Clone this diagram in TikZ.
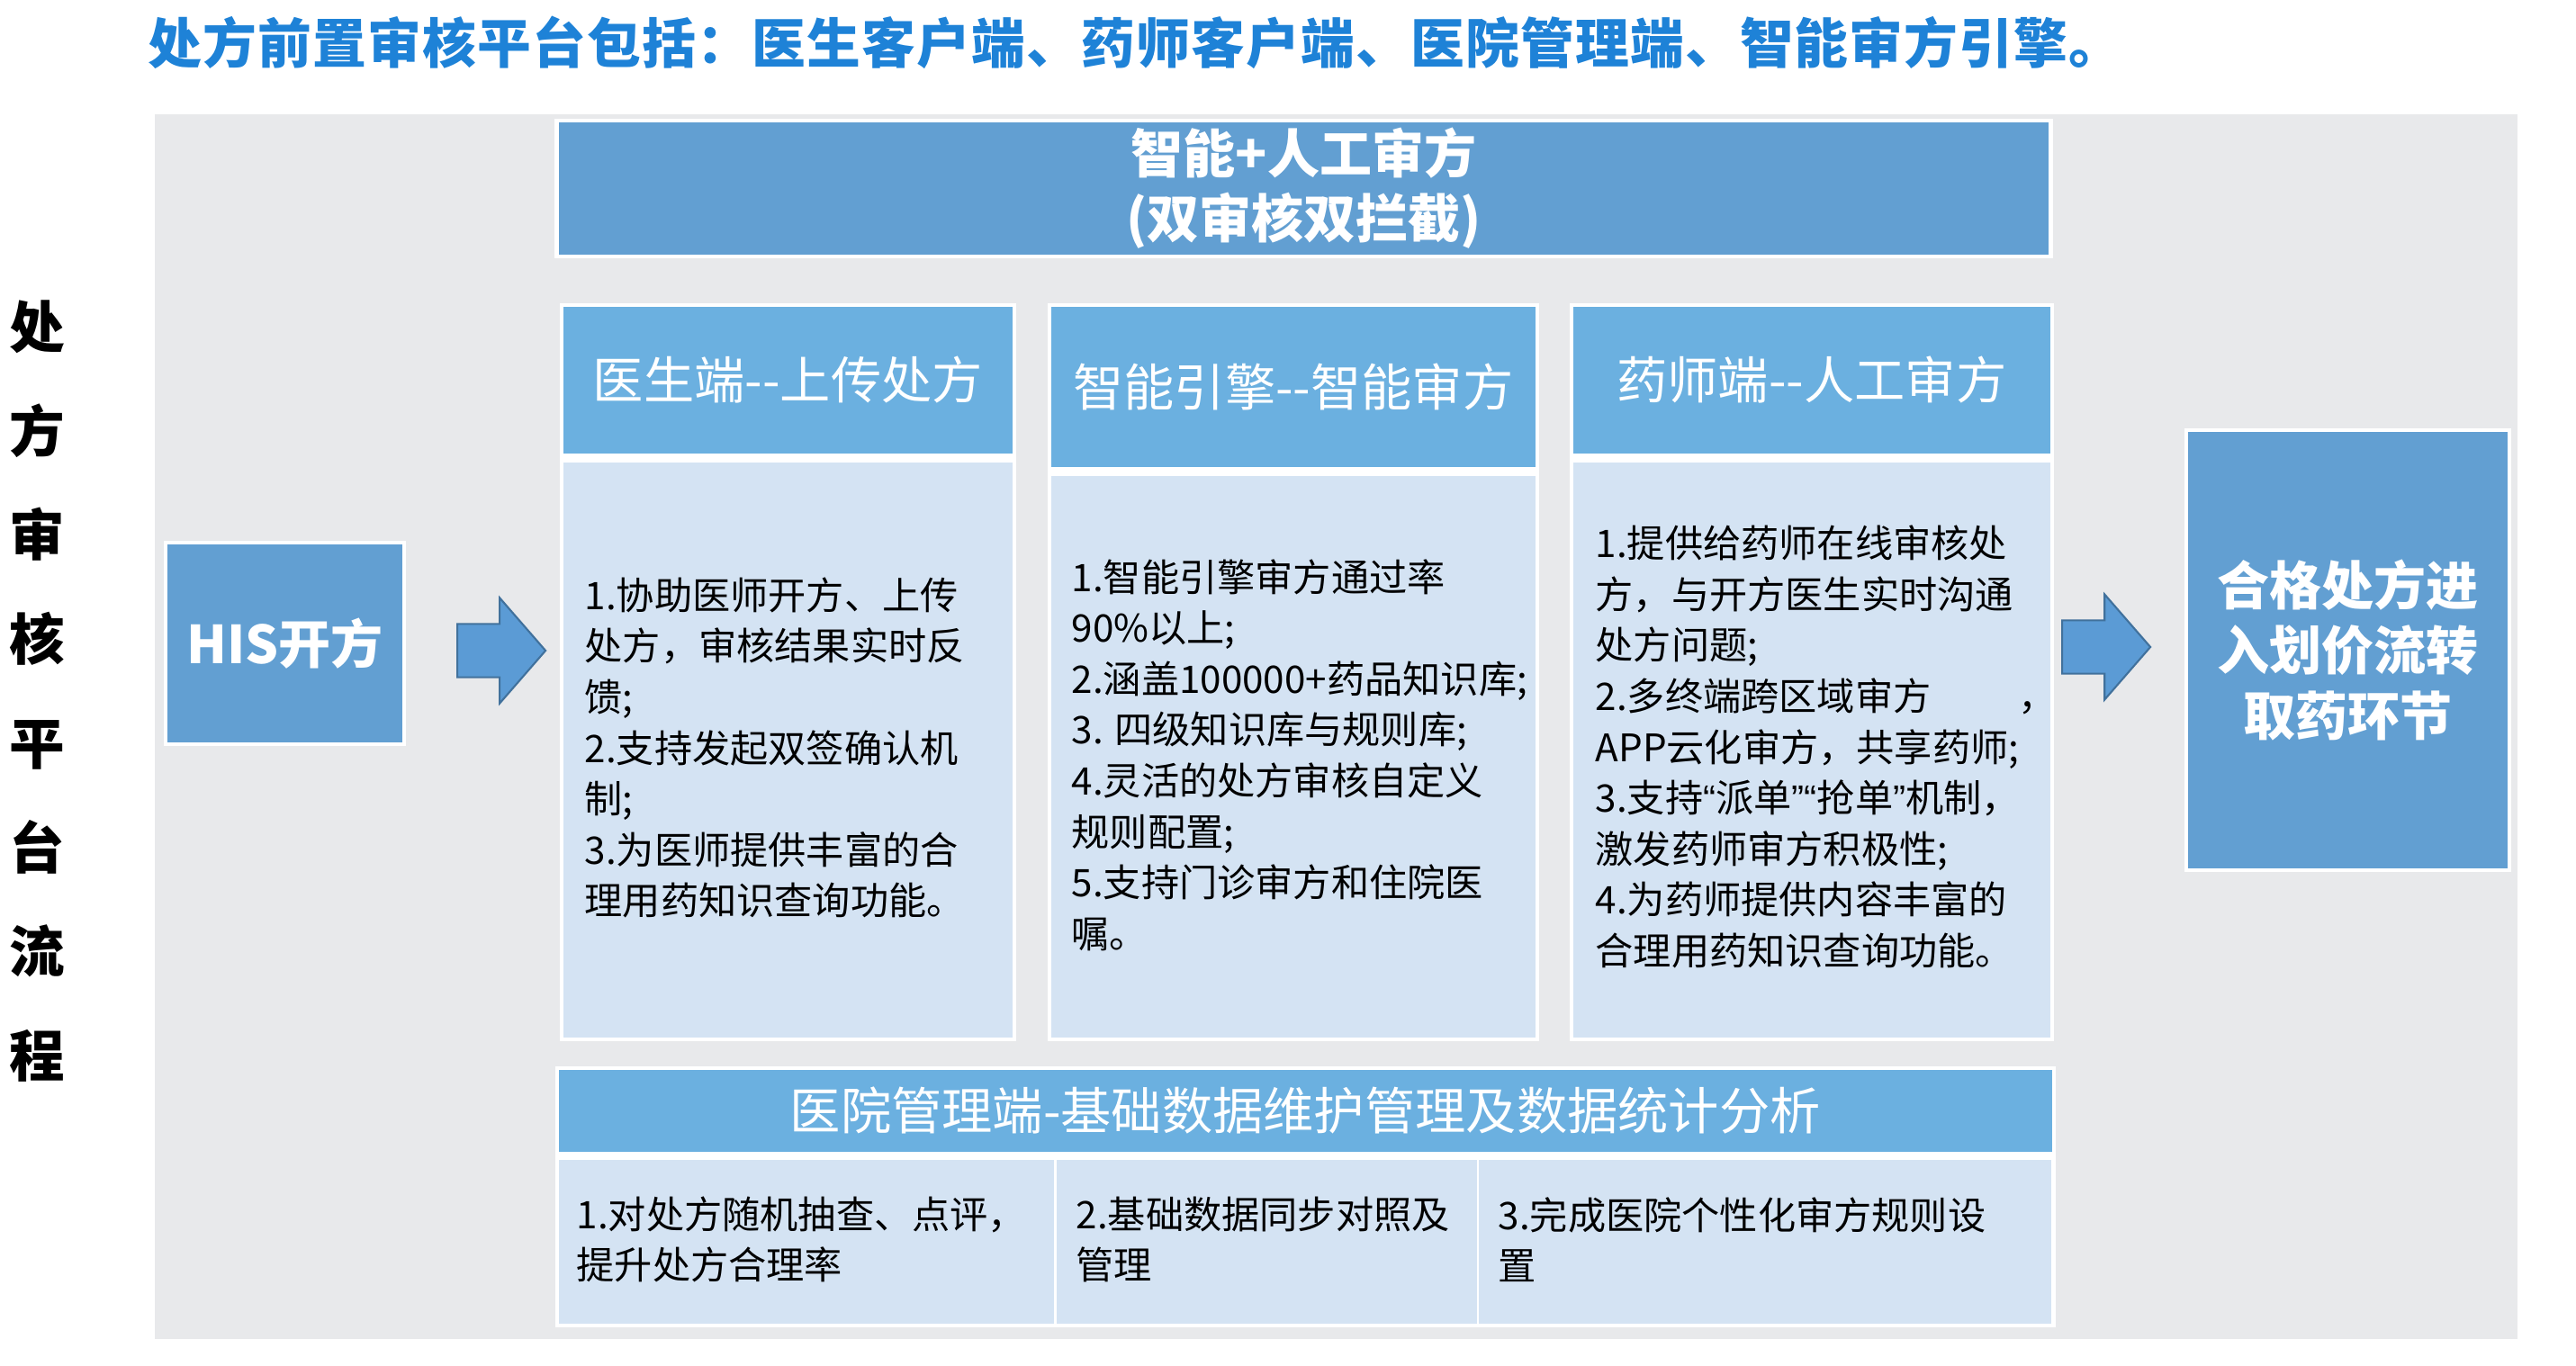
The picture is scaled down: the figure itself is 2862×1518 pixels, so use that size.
\documentclass[tikz,border=0pt]{standalone}
\usepackage{fontspec}
\setmainfont{Noto Sans CJK SC}
\newfontfamily\latin{Liberation Sans}
\usepackage{tikz}
\usetikzlibrary{shapes, arrows.meta, positioning, shapes.arrows}

\definecolor{titleblue}{HTML}{1E82D7}
\definecolor{boxblue}{HTML}{629FD2}
\definecolor{headblue}{HTML}{6BB0E0}
\definecolor{bodyblue}{HTML}{D4E3F3}
\definecolor{panelgray}{HTML}{E8E9EB}
\definecolor{arrowblue}{HTML}{5B9BD5}
\definecolor{arrowedge}{HTML}{41719C}

\newcommand{\fsz}[2]{\fontsize{#1}{#2}\selectfont}
\newcommand{\q}[1]{{\latin #1}}

\begin{document}
\begin{tikzpicture}[x=0.01cm, y=-0.01cm]
    \tikzstyle{frame} = [fill=white, anchor=north west, inner sep=0pt];
    \tikzstyle{block} = [fill=boxblue, draw=white, line width=1.2pt, text=white,
        font=\bfseries\fsz{16.5}{20.5}, align=center, inner sep=0pt];
    \tikzstyle{head} = [fill=headblue, anchor=north west, inner sep=0pt,
        text=white, font=\fsz{16}{20}];
    \tikzstyle{body} = [fill=bodyblue, anchor=north west, inner sep=0pt];
    \tikzstyle{item} = [anchor=west, align=left, inner sep=0pt, font=\fsz{12}{16.1}];
    \tikzstyle{bigarrow} = [single arrow, fill=arrowblue, draw=arrowedge, line width=0.6pt,
        anchor=tail, inner xsep=0pt, inner ysep=0.285cm, minimum height=0.98cm,
        single arrow head extend=0.29cm, single arrow tip angle=98];

    \useasboundingbox (0,0) rectangle (2862,1518);
    \fill[panelgray] (172,127) rectangle (2797,1488);

    % heading and side label
    \node[anchor=west, inner sep=0pt, text=titleblue,
        font=\bfseries\fsz{17}{20}\addfontfeature{LetterSpace=2}] at (164,47) (title)
        {处方前置审核平台包括：医生客户端、药师客户端、医院管理端、智能审方引擎。};
    \node[align=center, inner sep=0pt, font=\bfseries\fsz{17.5}{32.9}] at (41,768) (sideTitle)
        {处\\方\\审\\核\\平\\台\\流\\程};

    % top band
    \node[block, minimum width=16.59cm, minimum height=1.51cm] at (1448.5,209.5) (dualCheck)
        {智能+人工审方\\(双审核双拦截)};

    % white frames behind the columns
    \node[frame, minimum width=5.07cm, minimum height=8.20cm] at (621,336) (docFrame) {};
    \node[frame, minimum width=5.46cm, minimum height=8.20cm] at (1163,336) (engineFrame) {};
    \node[frame, minimum width=5.38cm, minimum height=8.20cm] at (1743,336) (pharmFrame) {};

    % doctor column
    \node[head, minimum width=4.99cm, minimum height=1.63cm] at (625,340) (docHead) {医生端-{}-上传处方};
    \node[body, minimum width=4.99cm, minimum height=6.39cm] at (625,513) (docBody) {};
    \node[item] at (649,831) (docText)
        {1.协助医师开方、上传\\处方，审核结果实时反\\馈;\\2.支持发起双签确认机\\制;\\3.为医师提供丰富的合\\理用药知识查询功能。};

    % engine column
    \node[head, minimum width=5.38cm, minimum height=1.78cm] at (1167,340) (engineHead) {智能引擎-{}-智能审方};
    \node[body, minimum width=5.38cm, minimum height=6.24cm] at (1167,528) (engineBody) {};
    \node[item] at (1190,839) (engineText)
        {1.智能引擎审方通过率\\90\%以上;\\2.涵盖100000+药品知识库;\\3. 四级知识库与规则库;\\4.灵活的处方审核自定义\\规则配置;\\5.支持门诊审方和住院医\\嘱。};

    % pharmacist column
    \node[head, minimum width=5.30cm, minimum height=1.63cm] at (1747,340) (pharmHead) {药师端-{}-人工审方};
    \node[body, minimum width=5.30cm, minimum height=6.39cm] at (1747,513) (pharmBody) {};
    \node[item] at (1772,830) (pharmText)
        {1.提供给药师在线审核处\\方，与开方医生实时沟通\\处方问题;\\2.多终端跨区域审方\hspace{0.97cm}，\\APP云化审方，共享药师;\\3.支持\q{“}派单\q{”}\q{“}抢单\q{”}机制，\\激发药师审方积极性;\\4.为药师提供内容丰富的\\合理用药知识查询功能。};

    % hospital management band
    \node[frame, minimum width=16.66cm, minimum height=2.90cm] at (616,1184) (mgmtFrame) {};
    \node[head, minimum width=16.58cm, minimum height=0.91cm] at (620,1188) (mgmtHead)
        {医院管理端-基础数据维护管理及数据统计分析};
    \node[body, minimum width=5.50cm, minimum height=1.82cm] at (620,1288) (mgmtA) {};
    \node[body, minimum width=4.67cm, minimum height=1.82cm] at (1173,1288) (mgmtB) {};
    \node[body, minimum width=6.36cm, minimum height=1.82cm] at (1642,1288) (mgmtC) {};
    \node[item] at (640,1377.5) (mgmtTextA) {1.对处方随机抽查、点评，\\提升处方合理率};
    \node[item] at (1195,1377.5) (mgmtTextB) {2.基础数据同步对照及\\管理};
    \node[item] at (1664,1377.5) (mgmtTextC) {3.完成医院个性化审方规则设\\置};

    % entry and exit
    \node[block, minimum width=2.65cm, minimum height=2.24cm] at (316.5,715) (his) {HIS开方};
    \node[block, minimum width=3.59cm, minimum height=4.89cm] at (2608.5,722.5) (qualified)
        {合格处方进\\入划价流转\\取药环节};
    \node[bigarrow] at (507,723) (arrowIn) {};
    \node[bigarrow] at (2290,719) (arrowOut) {};
\end{tikzpicture}
\end{document}
